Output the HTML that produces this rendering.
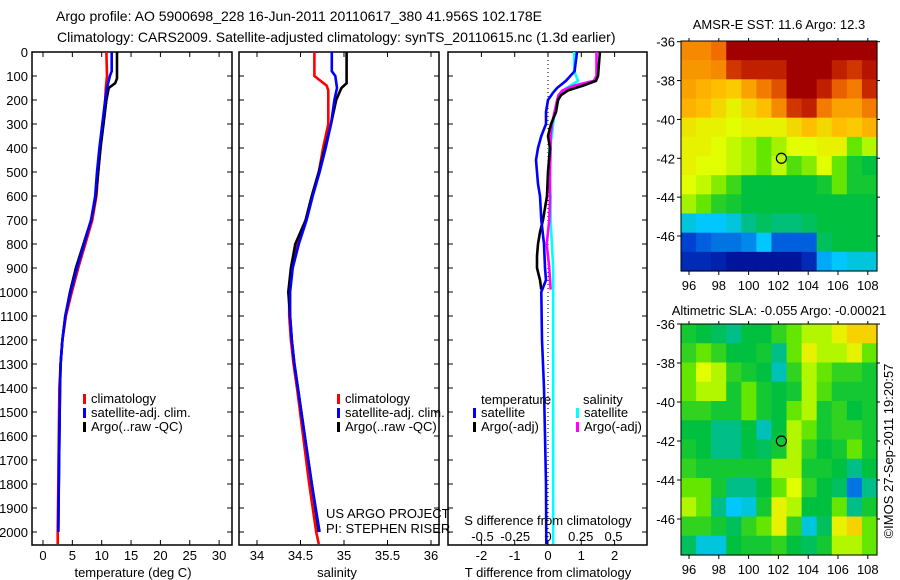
<!DOCTYPE html>
<html><head><meta charset="utf-8"><style>
html,body{margin:0;padding:0;background:#fff;}
svg{display:block;font-family:"Liberation Sans",sans-serif;}
text{font-size:13px;fill:#000;}
</style></head><body>
<svg id="fig" width="900" height="580" viewBox="0 0 900 580" xmlns="http://www.w3.org/2000/svg">
<text x="56" y="21" style="font-size:14px">Argo profile: AO 5900698_228 16-Jun-2011 20110617_380 41.956S 102.178E</text>
<text x="57" y="42" style="font-size:14px">Climatology: CARS2009. Satellite-adjusted climatology: synTS_20110615.nc (1.3d earlier)</text>
<g id="g"></g>
</svg>
<script>
// ---- profile data ----
const tDepthClim=[0,100,150,200,300,400,500,600,700,800,900,1000,1100,1200,1300,1400,1600,1800,2000,2050];
const tClim=[10.8,10.9,10.7,10.6,10.2,9.8,9.4,9.1,8.4,7.2,6.0,4.9,3.9,3.3,3.0,2.8,2.7,2.6,2.5,2.5];
const tDepthSat=[0,80,100,150,200,300,400,500,600,700,800,900,1000,1100,1200,1300,1400,1600,1800,2000];
const tSat=[11.7,11.7,11.4,10.9,10.6,10.1,9.6,9.2,8.9,8.2,7.0,5.8,4.7,3.8,3.3,3.0,2.9,2.8,2.7,2.6];
const tDepthArgo=[0,110,130,150,200,300,400,500,600,700,800,900,1000,1100,1200,1300,1400,1600,1800,2000];
const tArgo=[12.6,12.6,12.3,11.2,10.8,10.3,9.8,9.4,9.0,8.2,6.9,5.6,4.6,3.8,3.3,3.0,2.9,2.8,2.7,2.6];
const sClim=[34.66,34.66,34.8,34.82,34.82,34.76,34.71,34.63,34.56,34.47,34.4,34.37,34.37,34.39,34.42,34.46,34.53,34.6,34.68,34.71];
const sDepthClim=[0,100,140,160,300,400,500,600,700,800,900,1000,1100,1200,1300,1400,1600,1800,2000,2050];
const sSat=[34.86,34.86,34.9,34.92,34.89,34.85,34.79,34.72,34.64,34.57,34.48,34.41,34.38,34.38,34.4,34.43,34.47,34.55,34.63,34.72];
const sDepthSat=[0,80,100,150,200,300,400,500,600,700,800,900,1000,1100,1200,1300,1400,1600,1800,2000];
const sArgo=[35.03,35.03,35.03,34.97,34.91,34.85,34.78,34.71,34.63,34.56,34.44,34.39,34.36,34.38,34.4,34.43,34.47,34.55,34.63,34.71];
const dDepth=[0,80,120,150,170,200,250,300,350,400,450,500,550,600,700,800,900,950,1000,1200,1400,1800,2050];
const dTSat=[0.87,0.8,0.54,0.27,0.15,0,-0.06,-0.06,-0.2,-0.3,-0.36,-0.33,-0.3,-0.24,-0.2,-0.12,-0.09,-0.06,-0.2,-0.18,-0.12,-0.06,-0.05];
const dSSat=[0.2,0.2,0.23,0.14,0.1,0.08,0.05,0.04,0.03,0.01,0.01,0.01,0.01,0.02,0.02,0.03,0.04,0.04,0.04,0.04,0.04,0.04,0.04];
const dDepthArgo=[0,100,120,140,160,180,200,250,300,350,400,500,600,700,750,800,850,900,950,990];
const dTArgo=[1.56,1.5,1.44,1.05,0.6,0.39,0.3,0.24,0.09,0,0.06,0,-0.03,-0.15,-0.24,-0.3,-0.33,-0.33,-0.24,-0.2];
const dSArgo=[0.37,0.37,0.35,0.2,0.11,0.08,0.07,0.05,0.03,0.02,0.02,0.015,0.015,0.01,0.0,-0.01,0.0,0.01,0.015,0.02];
const depthTicks=[0,100,200,300,400,500,600,700,800,900,1000,1100,1200,1300,1400,1500,1600,1700,1800,1900,2000];
const tTicks=[0,5,10,15,20,25,30];
const sTicks=[34,34.5,35,35.5,36];
const dtTicks=[-2,-1,0,1,2];
const dsTicks=[-0.5,-0.25,0,0.25,0.5];
const dsTickLabels=["-0.5","-0.25","0","0.25","0.5"];
// ---- map data (colour index 0..1) ----
const sstGrid=[
[.76,.76,.8,1,1,1,1,1,1,1,1,1,1],
[.74,.74,.76,.88,.92,.92,.92,1,1,1,.92,.88,.95],
[.72,.7,.68,.66,.72,.78,.84,1,1,.92,.82,.78,.9],
[.7,.68,.64,.6,.64,.68,.76,.88,.92,.78,.72,.72,.78],
[.62,.6,.6,.58,.6,.6,.6,.64,.68,.64,.68,.66,.7],
[.6,.6,.58,.56,.54,.5,.54,.58,.58,.6,.6,.5,.55],
[.6,.58,.58,.56,.54,.5,.56,.48,.52,.58,.5,.42,.4],
[.58,.56,.52,.46,.4,.4,.4,.4,.4,.42,.5,.42,.42],
[.54,.5,.44,.42,.4,.4,.4,.4,.4,.4,.4,.4,.4],
[.3,.28,.28,.3,.35,.38,.36,.36,.38,.4,.4,.4,.4],
[.15,.18,.2,.2,.22,.28,.18,.18,.18,.38,.4,.4,.4],
[.1,.1,.08,.05,.05,.05,.05,.05,.1,.25,.28,.3,.3]];
const slaGrid=[
[.42,.4,.38,.35,.4,.4,.45,.5,.55,.55,.6,.65,.65],
[.45,.5,.45,.4,.4,.42,.35,.5,.6,.55,.55,.6,.5],
[.5,.58,.55,.45,.42,.4,.32,.45,.55,.5,.45,.45,.42],
[.5,.55,.55,.42,.5,.42,.4,.42,.55,.48,.42,.42,.42],
[.45,.45,.42,.42,.5,.42,.4,.5,.55,.42,.45,.4,.42],
[.4,.4,.35,.35,.4,.32,.4,.55,.5,.42,.45,.45,.42],
[.42,.4,.35,.35,.4,.38,.42,.55,.45,.4,.42,.5,.42],
[.45,.42,.42,.42,.42,.42,.55,.55,.42,.42,.4,.35,.4],
[.5,.5,.42,.35,.35,.4,.5,.58,.45,.4,.38,.2,.35],
[.55,.5,.35,.28,.3,.42,.6,.55,.4,.4,.5,.35,.42],
[.45,.45,.42,.38,.45,.5,.6,.45,.3,.38,.6,.65,.5],
[.38,.3,.3,.4,.42,.42,.45,.4,.38,.42,.55,.55,.5]];
const lonTicks=[96,98,100,102,104,106,108];
const latTicks=[-36,-38,-40,-42,-44,-46];
const argoLon=102.2, argoLat=-42;

const NS="http://www.w3.org/2000/svg";
const G=document.getElementById('g');
function mk(tag,attrs,parent,txt){const e=document.createElementNS(NS,tag);for(const k in attrs)e.setAttribute(k,attrs[k]);if(txt!==undefined)e.textContent=txt;(parent||G).appendChild(e);return e;}
const Y0=52,Yk=0.24,YB=545;
const yD=d=>Y0+d*Yk;
const xT=t=>43+t*5.87;
const xS=s=>257+(s-34)*87;
const xDT=t=>548+t*33.3;
const xDS=s=>548+s*131;

function panel(x0,x1,name,leftLabels){
  const f=mk('rect',{x:x0,y:Y0,width:x1-x0,height:YB-Y0,fill:'none',stroke:'#000','stroke-width':1.5});
  
  
  depthTicks.forEach(d=>{
    const y=yD(d);
    mk('line',{x1:x0,x2:x0+5,y1:y,y2:y,stroke:'#000'});
    mk('line',{x1:x1-5,x2:x1,y1:y,y2:y,stroke:'#000'});
    if(leftLabels){const t=mk('text',{x:x0-4,y:y+5,'text-anchor':'end'},G,String(d));
      
      }
  });
}
function xticks(vals,labels,fx,ylab,name){
  vals.forEach((v,i)=>{const x=fx(v);
    mk('line',{x1:x,x2:x,y1:YB,y2:YB-5,stroke:'#000'});
    mk('line',{x1:x,x2:x,y1:Y0,y2:Y0+5,stroke:'#000'});
    if(ylab){const t=mk('text',{x:x,y:ylab,'text-anchor':'middle'},G,labels[i]);
      
      }
  });
}
function series(xs,ds,fx,color,name){
  const pts=xs.map((v,i)=>fx(v).toFixed(1)+','+yD(ds[i]).toFixed(1)).join(' ');
  const p=mk('polyline',{points:pts,fill:'none',stroke:color,'stroke-width':2.6});
  
  
}
function label(x,y,txt,name,anchor){const t=mk('text',{x:x,y:y,'text-anchor':anchor||'start'},G,txt);
  
  return t;}
function legend(x,y,color,txt,name){
  const r=mk('rect',{x:x,y:y-9,width:3,height:10,fill:color});
  
  
  label(x+8,y,txt,name);
}

// Panel 1
panel(32,232,'temperature-panel',true);
xticks(tTicks,tTicks.map(String),xT,560,'temperature-tick-label');
series(tClim,tDepthClim,xT,'#f00','temperature-climatology-line');
series(tArgo,tDepthArgo,xT,'#000','temperature-argo-line');
series(tSat,tDepthSat,xT,'#00f','temperature-satellite-line');
label(133,577,'temperature (deg C)','temperature-axis-title','middle');
legend(83,403,'#f00','climatology','legend-climatology');
legend(83,417,'#00f','satellite-adj. clim.','legend-satellite-adj');
legend(83,431,'#000','Argo(..raw -QC)','legend-argo');

// Panel 2
panel(239,439,'salinity-panel',false);
xticks(sTicks,sTicks.map(String),xS,560,'salinity-tick-label');
series(sClim,sDepthClim,xS,'#f00','salinity-climatology-line');
series(sArgo,tDepthArgo,xS,'#000','salinity-argo-line');
series(sSat,sDepthSat,xS,'#00f','salinity-satellite-line');
label(337,577,'salinity','salinity-axis-title','middle');
legend(337,403,'#f00','climatology','legend-climatology-2');
legend(337,417,'#00f','satellite-adj. clim.','legend-satellite-adj-2');
legend(337,431,'#000','Argo(..raw -QC)','legend-argo-2');
label(326,518,'US ARGO PROJECT','project-credit');
label(326,533,'PI: STEPHEN RISER','pi-credit');

// Panel 3
panel(448,647,'difference-panel',false);
xticks(dtTicks,dtTicks.map(String),xDT,560,'t-diff-tick-label');
dsTicks.forEach((v,i)=>label(xDS(v),541,dsTickLabels[i],'s-diff-tick-label','middle'));
const z=mk('line',{x1:548,x2:548,y1:Y0,y2:YB,stroke:'#000','stroke-dasharray':'1,3'});


series(dSSat,dDepth,xDS,'#0ff','s-diff-satellite-line');
series(dSArgo,dDepthArgo,xDS,'#f0f','s-diff-argo-line');
series(dTArgo,dDepthArgo,xDT,'#000','t-diff-argo-line');
series(dTSat,dDepth,xDT,'#00f','t-diff-satellite-line');
label(548,525,'S difference from climatology','s-diff-axis-title','middle');
label(548,577,'T difference from climatology','t-diff-axis-title','middle');
label(481,404,'temperature','legend-temperature-heading');
label(583,404,'salinity','legend-salinity-heading');
legend(473,417,'#00f','satellite','legend-t-satellite');
legend(473,431,'#000','Argo(-adj)','legend-t-argo');
legend(576,417,'#0ff','satellite','legend-s-satellite');
legend(576,431,'#f0f','Argo(-adj)','legend-s-argo');

// Maps
const stops=[[0,[0,0,128]],[.15,[0,64,210]],[.28,[0,200,255]],[.34,[0,190,150]],[.4,[0,192,64]],[.5,[100,230,0]],[.58,[225,255,0]],[.68,[255,190,0]],[.8,[240,110,0]],[.9,[200,40,0]],[1,[160,0,0]]];
function cmap(v){for(let i=1;i<stops.length;i++){if(v<=stops[i][0]){const a=stops[i-1],b=stops[i],f=(v-a[0])/(b[0]-a[0]);return 'rgb('+a[1].map((c,k)=>Math.round(c+(b[1][k]-c)*f)).join(',')+')';}}return 'rgb(160,0,0)';}
function map(grid,x0,x1,y0,y1,lat36y,lat46y,name,title,titleY){
  const lon=l=>689+(l-96)*14.9;
  const lat=a=>lat36y+(-36-a)*(lat46y-lat36y)/10;
  const rows=grid.length,cols=grid[0].length,cw=(x1-x0)/cols,ch=(y1-y0)/rows;
  grid.forEach((row,r)=>row.forEach((v,c)=>{
    const cell=mk('rect',{x:(x0+c*cw).toFixed(2),y:(y0+r*ch).toFixed(2),width:(cw+0.6).toFixed(2),height:(ch+0.6).toFixed(2),fill:cmap(v)});
    
    
  }));
  const f=mk('rect',{x:x0,y:y0,width:x1-x0,height:y1-y0,fill:'none',stroke:'#000','stroke-width':1});
  
  
  lonTicks.forEach(l=>{const x=lon(l);mk('line',{x1:x,x2:x,y1:y1,y2:y1+4,stroke:'#000'});mk('line',{x1:x,x2:x,y1:y0,y2:y0-3,stroke:'#000'});
    label(x,y1+19,String(l),name+'-lon-label','middle');});
  latTicks.forEach(a=>{const y=lat(a);mk('line',{x1:x0-4,x2:x0,y1:y,y2:y,stroke:'#000'});mk('line',{x1:x1,x2:x1+3,y1:y,y2:y,stroke:'#000'});
    label(x0-6,y+5,String(a),name+'-lat-label','end');});
  const c=mk('circle',{cx:lon(argoLon),cy:lat(argoLat),r:5,fill:'none',stroke:'#000','stroke-width':1.2});
  
  
  label((x0+x1)/2,titleY,title,name+'-title','middle');
}
map(sstGrid,681,877,41,271,41.7,236,'sst-map','AMSR-E SST: 11.6 Argo: 12.3',29);
map(slaGrid,681,877,324,555,324,519,'sla-map','Altimetric SLA: -0.055 Argo: -0.00021',315);
const v=mk('text',{x:0,y:0,transform:'translate(893,451) rotate(-90)','text-anchor':'middle'},G,'©IMOS 27-Sep-2011 19:20:57');


</script>
</body></html>
